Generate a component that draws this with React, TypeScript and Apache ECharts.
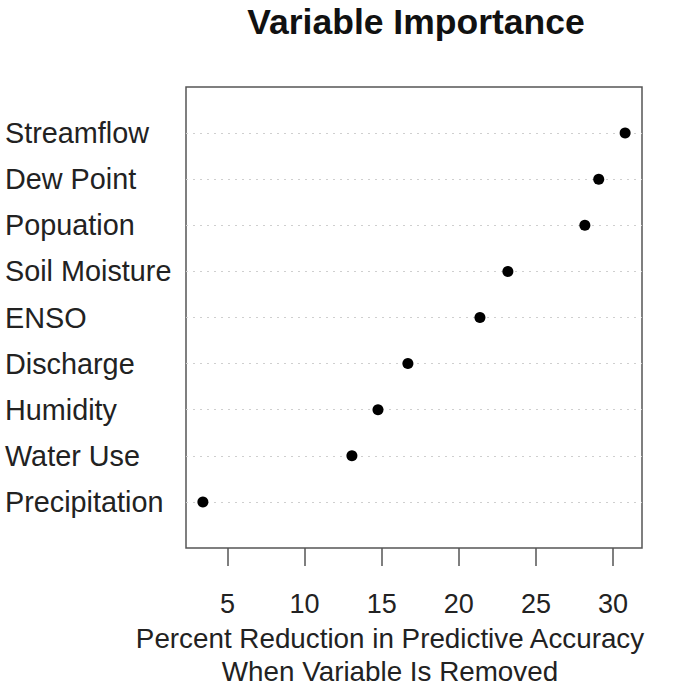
import React, { useEffect, useRef } from "react";
import * as echarts from "echarts";

const categories = [
  "Streamflow",
  "Dew Point",
  "Popuation",
  "Soil Moisture",
  "ENSO",
  "Discharge",
  "Humidity",
  "Water Use",
  "Precipitation",
];
const values = [30.78, 29.07, 28.17, 23.18, 21.37, 16.7, 14.76, 13.07, 3.41];
const xTicks = [5, 10, 15, 20, 25, 30];
const titleText = "Variable Importance";
const xTitle = "Percent Reduction in Predictive Accuracy\nWhen Variable Is Removed";

const FONT = "'Liberation Sans', Arial, sans-serif";

export default function App() {
  const ref = useRef<HTMLDivElement>(null);
  useEffect(() => {
    if (!ref.current) return;
    const chart = echarts.init(ref.current, undefined, { renderer: "svg" });
    const lo = Math.min(...values);
    const hi = Math.max(...values);
    const pad = (hi - lo) * 0.04;
    chart.setOption({
      animation: false,
      backgroundColor: "#ffffff",
      title: [
        {
          text: titleText,
          left: 411,
          textAlign: "center",
          top: -1,
          textStyle: { fontFamily: FONT, fontSize: 35.5, fontWeight: "bold", color: "#111" },
        },
        {
          text: xTitle,
          left: 385,
          textAlign: "center",
          top: 617,
          textStyle: { fontFamily: FONT, fontSize: 27.8, fontWeight: "normal", color: "#222", lineHeight: 33 },
        },
      ],
      grid: {
        left: 186,
        right: 43,
        top: 87,
        bottom: 141,
        show: true,
        borderColor: "#555",
        borderWidth: 1.5,
        containLabel: false,
      },
      xAxis: {
        type: "value",
        min: lo - pad,
        max: hi + pad,
        axisLine: { show: false, onZero: false },
        splitLine: { show: false },
        axisTick: {
          show: true,
          length: 18,
          customValues: xTicks,
          lineStyle: { color: "#555", width: 1.5 },
        },
        axisLabel: {
          customValues: xTicks,
          margin: 42,
          fontFamily: FONT,
          fontSize: 27,
          color: "#222",
        },
      },
      yAxis: {
        type: "value",
        min: 0,
        max: 10,
        interval: 1,
        inverse: true,
        axisLine: { show: false },
        axisTick: { show: false },
        splitLine: { show: false },
        axisLabel: {
          align: "left",
          margin: 181,
          padding: [4, 0, 0, 0],
          fontFamily: FONT,
          fontSize: 28.8,
          color: "#222",
          formatter: (v: number) => categories[v - 1] ?? "",
        },
      },
      series: [
        {
          type: "scatter",
          z: 1,
          data: [],
          markLine: {
            silent: true,
            symbol: ["none", "none"],
            label: { show: false },
            lineStyle: { color: "#cfcfcf", type: [2, 5], width: 1.2 },
            data: categories.map((_, i) => ({ yAxis: i + 1 })),
          },
        },
        {
          type: "scatter",
          z: 5,
          symbol: "circle",
          symbolSize: 11,
          itemStyle: { color: "#000", borderWidth: 0, opacity: 1 },
          data: values.map((v, i) => [v, i + 1]),
        },
      ],
    });
    return () => chart.dispose();
  }, []);
  return (
    <div
      ref={ref}
      style={{ position: "fixed", left: 0, top: 0, width: 685, height: 689 }}
    />
  );
}
